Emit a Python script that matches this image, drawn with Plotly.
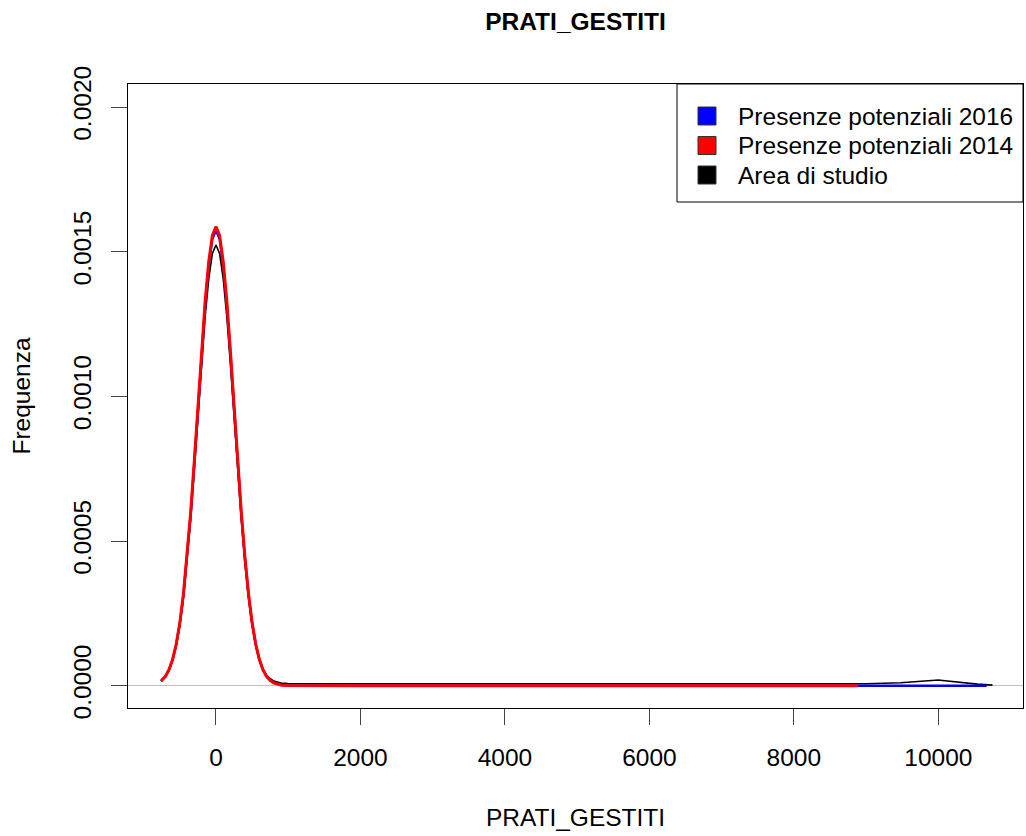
import plotly.graph_objects as go

# ---------------- data ----------------
x_peak = [-760, -700, -650, -600, -550, -500, -450, -400, -350, -300, -250, -200,
          -150, -100, -50, 0, 50, 100, 150, 200, 250, 300, 350, 400, 450, 500,
          550, 600, 650, 700, 750, 800, 900, 1000]

red_peak_y = [0.0000162, 0.0000325, 0.0000555, 0.0000911, 0.000144, 0.000218, 0.000318,
              0.000446, 0.000600, 0.000777, 0.000966, 0.001155, 0.001328, 0.001466,
              0.001556, 0.001587, 0.001556, 0.001466, 0.001328, 0.001155, 0.000966,
              0.000777, 0.000600, 0.000446, 0.000318, 0.000218, 0.000144, 0.0000911,
              0.0000555, 0.0000325, 0.0000183, 0.0000099, 0.0000026, 0.0000006]
red_tail_x = [1200, 2000, 4000, 6000, 8000, 8890]
red_tail_y = [0.0000001, 0.0, 0.0, 0.0, 0.0, 0.0]

blue_peak_y = [0.0000161, 0.0000322, 0.0000551, 0.0000904, 0.000143, 0.000216, 0.000315,
               0.000442, 0.000595, 0.000771, 0.000958, 0.001146, 0.001317, 0.001454,
               0.001544, 0.001575, 0.001544, 0.001454, 0.001317, 0.001146, 0.000958,
               0.000771, 0.000595, 0.000442, 0.000315, 0.000216, 0.000143, 0.0000904,
               0.0000551, 0.0000322, 0.0000182, 0.0000098, 0.0000026, 0.0000006]
blue_tail_x = [1200, 2000, 4000, 6000, 8000, 10000, 10670]
blue_tail_y = [0.0000001, 0.0, 0.0, 0.0, 0.0, 0.0, 0.0]

black_peak_y = [0.0000156, 0.0000312, 0.0000533, 0.0000875, 0.000138, 0.000209, 0.000305,
                0.000428, 0.000576, 0.000746, 0.000927, 0.001109, 0.001275, 0.001407,
                0.001494, 0.001523, 0.001494, 0.001407, 0.001275, 0.001109, 0.000927,
                0.000746, 0.000576, 0.000428, 0.000305, 0.000209, 0.000138, 0.0000875,
                0.0000560, 0.0000340, 0.0000235, 0.0000158, 0.0000090, 0.0000070]
black_tail_x = [1200, 2000, 4000, 6000, 8000, 9000, 9480, 9640, 9870, 10000, 10060,
                10240, 10380, 10540, 10750]
black_tail_y = [0.0000066, 0.0000065, 0.0000065, 0.0000065, 0.0000065, 0.0000068,
                0.0000100, 0.0000135, 0.0000180, 0.0000195, 0.0000180, 0.0000135,
                0.0000080, 0.0000055, 0.0000020]

series_names = ["Presenze potenziali 2016", "Presenze potenziali 2014", "Area di studio"]
y_ticks = [0.0, 0.0005, 0.0010, 0.0015, 0.0020]
x_ticks = [0, 2000, 4000, 6000, 8000, 10000]

# ---------------- figure ----------------
W, H = 1026, 836
L, R, T, B = 128, 3, 84, 128
FONT = "Liberation Sans, Arial, sans-serif"
FS = 24.5

fig = go.Figure()
fig.add_trace(go.Scatter(x=x_peak + black_tail_x, y=black_peak_y + black_tail_y,
                         mode="lines", line=dict(color="black", width=1.6),
                         name=series_names[2], showlegend=False))
fig.add_trace(go.Scatter(x=x_peak + blue_tail_x, y=blue_peak_y + blue_tail_y,
                         mode="lines", line=dict(color="blue", width=2.4),
                         name=series_names[0], showlegend=False))
fig.add_trace(go.Scatter(x=x_peak + red_tail_x, y=red_peak_y + red_tail_y,
                         mode="lines", line=dict(color="red", width=3),
                         name=series_names[1], showlegend=False))

pw = W - L - R
ph = H - T - B


def px_x(px):
    return (px - L) / pw


def px_y(py):
    return (H - B - py) / ph


# manual R-style legend
shapes = [dict(type="rect", xref="paper", yref="paper",
               x0=px_x(677), x1=px_x(1023), y0=px_y(202), y1=px_y(84),
               line=dict(color="black", width=1), fillcolor="white", layer="above")]
annotations = []
leg_colors = ["blue", "red", "black"]
row_y = [116, 145.5, 175]
for name, col, ry in zip(series_names, leg_colors, row_y):
    shapes.append(dict(type="rect", xref="paper", yref="paper",
                       x0=px_x(698), x1=px_x(716), y0=px_y(ry + 9), y1=px_y(ry - 9),
                       line=dict(color="#333333", width=1), fillcolor=col, layer="above"))
    annotations.append(dict(xref="paper", yref="paper", x=px_x(736), y=px_y(ry),
                            xanchor="left", yanchor="middle", text=name, showarrow=False,
                            font=dict(family=FONT, size=FS, color="black")))

fig.update_layout(
    width=W, height=H,
    margin=dict(l=L, r=R, t=T, b=B, pad=0),
    paper_bgcolor="white", plot_bgcolor="white",
    font=dict(family=FONT, size=FS, color="black"),
    title=dict(text="<b>PRATI_GESTITI</b>", x=px_x(575.5), xref="paper",
               y=1 - 21.5 / H, yref="container", xanchor="center", yanchor="middle",
               font=dict(family=FONT, size=FS, color="black")),
    showlegend=False,
    shapes=shapes,
    annotations=annotations,
)

fig.update_xaxes(range=[-1218, 11172], tickvals=x_ticks, ticktext=[str(v) for v in x_ticks],
                 showgrid=False, zeroline=False, showline=True, mirror=True,
                 linecolor="black", linewidth=1, ticks="outside", ticklen=16,
                 tickwidth=1, tickcolor="#444444", tickfont=dict(size=FS),
                 ticklabelstandoff=12,
                 title=dict(text="PRATI_GESTITI", standoff=38, font=dict(size=FS)))
fig.update_yaxes(range=[-0.0000771, 0.0020795], tickvals=y_ticks,
                 ticktext=["%.4f" % v for v in y_ticks], tickangle=-90,
                 showgrid=False, zeroline=True, zerolinecolor="#BEBEBE", zerolinewidth=1,
                 showline=True, mirror=True, linecolor="black", linewidth=1,
                 ticks="outside", ticklen=16, tickwidth=1, tickcolor="#444444",
                 tickfont=dict(size=FS), ticklabelstandoff=10,
                 title=dict(text="Frequenza", standoff=31, font=dict(size=FS)))

fig.write_html("out.html")
